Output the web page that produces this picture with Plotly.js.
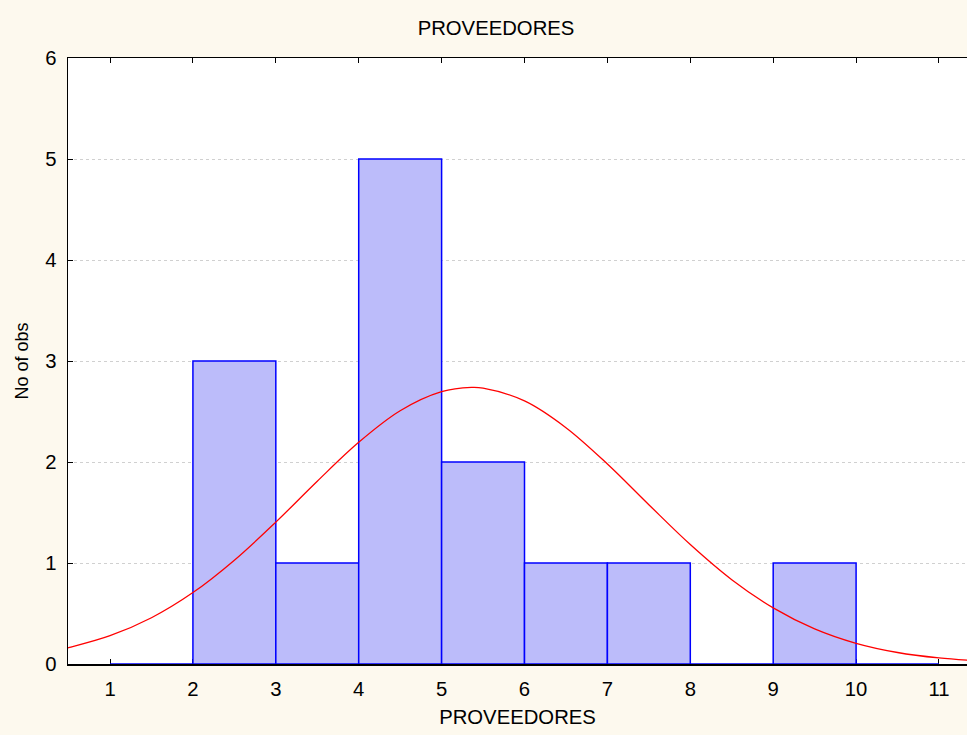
<!DOCTYPE html>
<html>
<head>
<meta charset="utf-8">
<script src="https://cdn.plot.ly/plotly-3.0.1.min.js"></script>
<style>html,body{margin:0;padding:0;background:#FDF9EE;}#chart{width:967px;height:735px;}</style>
</head>
<body>
<div id="chart"></div>
<script>
// Histogram bins (centres of unit-width bins from 1 to 11) and counts
const binCenters = [1.5, 2.5, 3.5, 4.5, 5.5, 6.5, 7.5, 8.5, 9.5, 10.5];
const counts     = [0,   3,   1,   5,   2,   1,   1,   0,   1,   0];

// Fitted normal curve
const curveX = [0.4, 0.5, 1, 1.5, 2, 2.5, 3, 3.5, 4, 4.5, 5, 5.36, 5.5, 6, 6.5, 7, 7.5, 8, 8.5, 9, 9.5, 10, 10.5, 11, 11.5];
const curveY = [0.14, 0.161, 0.280, 0.458, 0.707, 1.028, 1.405, 1.810, 2.195, 2.507, 2.696, 2.738, 2.731, 2.605, 2.340, 1.980, 1.577, 1.183, 0.835, 0.556, 0.348, 0.205, 0.114, 0.060, 0.029];

const xTicks = [1, 2, 3, 4, 5, 6, 7, 8, 9, 10, 11];
const yTicks = [0, 1, 2, 3, 4, 5, 6];

const font = {family: 'Liberation Sans, Arial, sans-serif', size: 20.3, color: '#000'};
const yTitleFont = {family: 'Liberation Sans, Arial, sans-serif', size: 18, color: '#000'};

const traces = [
  {
    type: 'bar',
    x: binCenters,
    y: counts,
    width: 1,
    marker: {color: 'rgb(188,188,250)', line: {color: '#0000FF', width: 1.5}},
    hoverinfo: 'x+y',
    showlegend: false
  },
  {
    type: 'scatter',
    mode: 'lines',
    x: curveX,
    y: curveY,
    line: {color: '#FF0000', width: 1.3, shape: 'spline'},
    showlegend: false
  }
];

const layout = {
  width: 967,
  height: 735,
  paper_bgcolor: '#FDF9EE',
  plot_bgcolor: '#FFFFFF',
  font: font,
  margin: {l: 68, r: 0, t: 58, b: 71},
  bargap: 0,
  title: {text: 'PROVEEDORES', x: 496/967, xref: 'container', y: 1 - 28/735, yref: 'container', xanchor: 'center', yanchor: 'middle', font: font},
  xaxis: {
    range: [0.493, 11.338],
    tickvals: xTicks,
    ticktext: xTicks.map(String),
    ticks: 'inside',
    ticklen: 5,
    tickcolor: '#000',
    ticklabelstandoff: 6,
    showline: true,
    linecolor: '#000',
    linewidth: 1.5,
    mirror: 'ticks',
    showgrid: false,
    zeroline: false,
    layer: 'below traces',
    title: {text: 'PROVEEDORES', font: font, standoff: 11},
    tickfont: font
  },
  yaxis: {
    range: [0, 6],
    tickvals: yTicks,
    ticks: 'inside',
    ticklen: 5,
    tickcolor: '#000',
    ticklabelstandoff: 6,
    showline: true,
    linecolor: '#000',
    linewidth: 1.5,
    showgrid: true,
    gridcolor: '#d0d0d0',
    griddash: 'dot',
    gridwidth: 1,
    zeroline: false,
    title: {text: 'No of obs', font: yTitleFont, standoff: 12},
    tickfont: font
  }
};

Plotly.newPlot('chart', traces, layout, {displayModeBar: false, staticPlot: true});
</script>
</body>
</html>
